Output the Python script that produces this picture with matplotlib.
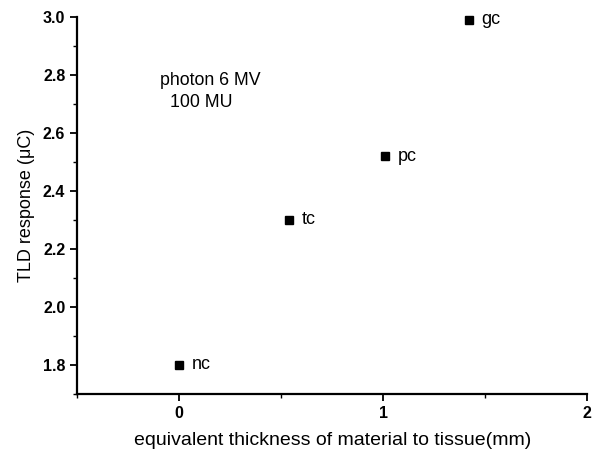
import matplotlib
matplotlib.use("Agg")
import matplotlib.pyplot as plt
from matplotlib.ticker import MultipleLocator

# material samples and their measured TLD response
labels = ["nc", "tc", "pc", "gc"]
thickness = [0.0, 0.54, 1.01, 1.42]
response = [1.80, 2.30, 2.52, 2.99]

x_ticks = [0, 1, 2]
y_ticks = [1.8, 2.0, 2.2, 2.4, 2.6, 2.8, 3.0]

plt.rcParams["font.family"] = ["Liberation Sans", "DejaVu Sans"]

fig = plt.figure(figsize=(5.98, 4.59), dpi=100)
ax = fig.add_axes([0.129, 0.142, 0.853, 0.821])

ax.plot(thickness, response, "s", color="black", markersize=5.5, clip_on=False)
for lab, x, y in zip(labels, thickness, response):
    ax.annotate(lab, (x, y), xytext=(9, 0), textcoords="offset points",
                va="center", ha="left", fontsize=13)

ax.text(-0.095, 2.78, "photon 6 MV", fontsize=12.8, va="center")
ax.text(-0.045, 2.705, "100 MU", fontsize=12.8, va="center")

ax.set_xlim(-0.5, 2)
ax.set_ylim(1.7, 3.0)
ax.set_xticks(x_ticks)
ax.set_yticks(y_ticks)
ax.set_yticklabels([f"{v:.1f}" for v in y_ticks])
ax.xaxis.set_minor_locator(MultipleLocator(0.5))
ax.yaxis.set_minor_locator(MultipleLocator(0.1))

for side in ["top", "right"]:
    ax.spines[side].set_visible(False)
for side in ["left", "bottom"]:
    ax.spines[side].set_linewidth(1.6)

ax.tick_params(which="major", direction="out", length=5, width=1.3, labelsize=11.5)
ax.tick_params(which="minor", direction="out", length=3, width=1.0)
for t in ax.get_xticklabels() + ax.get_yticklabels():
    t.set_fontweight("bold")

ax.set_xlabel("equivalent thickness of material to tissue(mm)", fontsize=14, labelpad=8)
ax.set_ylabel("TLD response (\u03bcC)", fontsize=13, labelpad=6)

fig.savefig("out.png", dpi=100)
